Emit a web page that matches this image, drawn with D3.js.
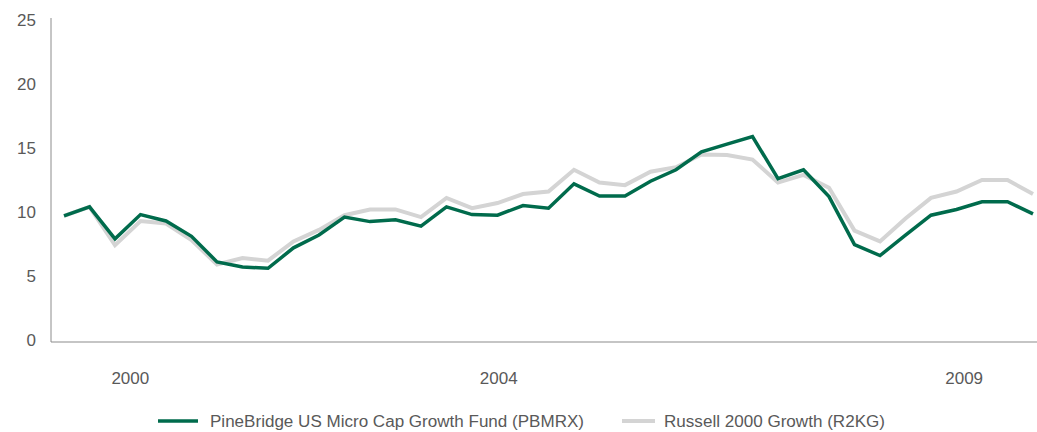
<!DOCTYPE html>
<html>
<head>
<meta charset="utf-8">
<script src="https://cdn.jsdelivr.net/npm/d3@7"></script>
<style>
  html, body { margin: 0; padding: 0; background: #fff; }
  svg { display: block; }
  text { font-family: "Liberation Sans", Arial, sans-serif; fill: #595959; }
</style>
</head>
<body>
<svg id="chart" width="1037" height="432"></svg>
<script>
// Growth of an investment, one value per period
const fundValues = [9.7, 10.4, 7.9, 9.8, 9.3, 8.1, 6.1, 5.7, 5.6, 7.2, 8.2, 9.6, 9.25, 9.4, 8.9, 10.4,
  9.8, 9.75, 10.5, 10.3, 12.2, 11.25, 11.25, 12.4, 13.3, 14.7, 15.3, 15.9, 12.6, 13.3, 11.2, 7.45,
  6.6, 8.2, 9.75, 10.2, 10.8, 10.8, 9.85];
const indexValues = [9.7, 10.4, 7.4, 9.3, 9.1, 7.8, 5.9, 6.4, 6.2, 7.7, 8.6, 9.75, 10.2, 10.2, 9.6, 11.1,
  10.3, 10.7, 11.4, 11.6, 13.3, 12.3, 12.1, 13.15, 13.5, 14.5, 14.45, 14.1, 12.3, 12.9, 11.9, 8.55,
  7.7, 9.5, 11.1, 11.6, 12.5, 12.5, 11.4];
const seriesNames = ["PineBridge US Micro Cap Growth Fund (PBMRX)", "Russell 2000 Growth  (R2KG)"];
const yTicks = [0, 5, 10, 15, 20, 25];
const xTickLabels = ["2000", "2004", "2009"];
const xTickAt = [2.6, 17.05, 35.3]; // period index where each year label sits

const svg = d3.select("#chart");
const plotLeft = 51, plotRight = 1037, plotTop = 20, plotBottom = 340;

const x = d3.scaleLinear().domain([0, fundValues.length - 1]).range([64, 1033]);
const y = d3.scaleLinear().domain([0, 25]).range([plotBottom, plotTop]);

// axis frame
svg.append("line").attr("x1", plotLeft).attr("x2", plotLeft).attr("y1", 18).attr("y2", 342)
  .attr("stroke", "#8c8c8c").attr("stroke-width", 1);
svg.append("line").attr("x1", plotLeft).attr("x2", plotRight).attr("y1", 342).attr("y2", 342)
  .attr("stroke", "#8c8c8c").attr("stroke-width", 1.2);

// y tick labels
svg.append("g").selectAll("text").data(yTicks).join("text")
  .attr("x", 36).attr("y", d => y(d)).attr("dy", "0.35em")
  .attr("text-anchor", "end").attr("font-size", 17).text(d => d);

// x tick labels
svg.append("g").selectAll("text").data(xTickLabels).join("text")
  .attr("x", (d, i) => x(xTickAt[i])).attr("y", 384)
  .attr("text-anchor", "middle").attr("font-size", 17).text(d => d);

const line = d3.line().x((d, i) => x(i)).y(d => y(d));

svg.append("path").datum(indexValues).attr("d", line)
  .attr("fill", "none").attr("stroke", "#d4d4d4").attr("stroke-width", 4)
  .attr("stroke-linejoin", "miter");
svg.append("path").datum(fundValues).attr("d", line)
  .attr("fill", "none").attr("stroke", "#006b4c").attr("stroke-width", 3.5)
  .attr("stroke-linejoin", "miter");

// legend
const legend = [
  { name: seriesNames[0], color: "#006b4c", w: 3.5, x0: 158, x1: 198, tx: 210, len: 374 },
  { name: seriesNames[1], color: "#d4d4d4", w: 4, x0: 622, x1: 655, tx: 664, len: 221 }
];
const lg = svg.append("g");
legend.forEach(l => {
  lg.append("line").attr("x1", l.x0).attr("x2", l.x1).attr("y1", 421).attr("y2", 421)
    .attr("stroke", l.color).attr("stroke-width", l.w);
  lg.append("text").attr("x", l.tx).attr("y", 421).attr("dy", "0.35em")
    .attr("font-size", 16).attr("textLength", l.len).attr("lengthAdjust", "spacingAndGlyphs")
    .text(l.name);
});
</script>
</body>
</html>
